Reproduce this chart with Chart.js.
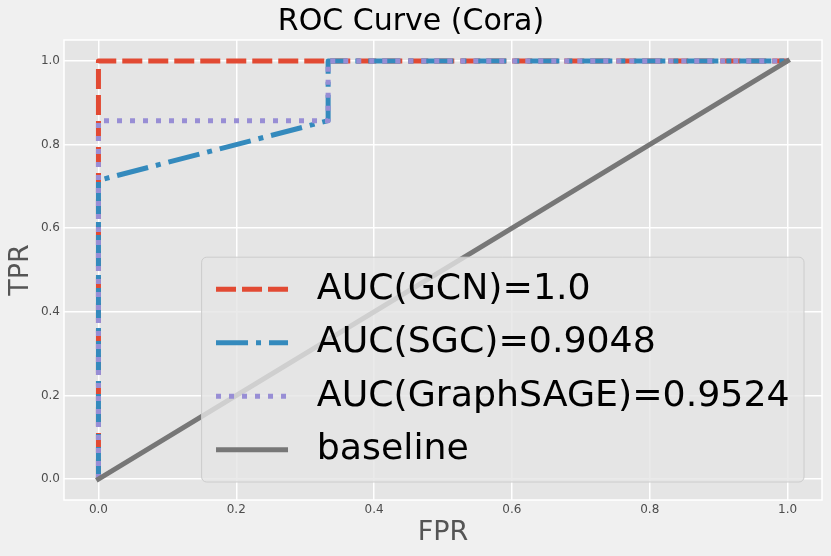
<!DOCTYPE html>
<html>
<head>
<meta charset="utf-8">
<script src="https://cdn.jsdelivr.net/npm/chart.js@4/dist/chart.umd.min.js"></script>
<style>
    html, body { margin: 0; padding: 0; background: #f0f0f0; }
    #wrap { width: 831px; height: 556px; }
</style>
</head>
<body>
<div id="wrap"><canvas id="rocChart" width="831" height="556"></canvas></div>
<script>
// ROC points
const tickValues = [0.0, 0.2, 0.4, 0.6, 0.8, 1.0];

const gcnFpr = [0, 0, 1];
const gcnTpr = [0, 1, 1];

const sgcFpr = [0, 0, 0.3333, 0.3333, 1];
const sgcTpr = [0, 0.7143, 0.8571, 1, 1];

const sageFpr = [0, 0, 0.3333, 0.3333, 1];
const sageTpr = [0, 0.8571, 0.8571, 1, 1];

const baseFpr = [0, 1];
const baseTpr = [0, 1];

const seriesLabels = ["AUC(GCN)=1.0", "AUC(SGC)=0.9048", "AUC(GraphSAGE)=0.9524", "baseline"];

const FONT = '"DejaVu Sans", "Liberation Sans", sans-serif';

function toPoints(xs, ys) {
    return xs.map((x, i) => ({ x: x, y: ys[i] }));
}

// Plot panel background + white frame (ggplot look)
const panelBg = {
    id: "panelBg",
    beforeDraw(chart) {
        const { ctx, chartArea: a } = chart;
        ctx.save();
        ctx.fillStyle = "#f0f0f0";
        ctx.fillRect(0, 0, chart.width, chart.height);
        ctx.fillStyle = "#e5e5e5";
        ctx.fillRect(a.left, a.top, a.right - a.left, a.bottom - a.top);
        ctx.restore();
    },
    beforeDatasetsDraw(chart) {
        const { ctx, chartArea: a } = chart;
        ctx.save();
        ctx.strokeStyle = "#ffffff";
        ctx.lineWidth = 1.5;
        ctx.strokeRect(a.left, a.top, a.right - a.left, a.bottom - a.top);
        ctx.restore();
    }
};

// Legend drawn inside the plot, lower right
const insideLegend = {
    id: "insideLegend",
    afterDatasetsDraw(chart) {
        const { ctx, chartArea: a } = chart;
        const fs = 36;
        const pad = 0.4 * fs, handleLen = 2 * fs, handleGap = 0.8 * fs;
        const rowH = 35.5, spacing = 0.5 * fs, edge = 18;
        const sets = chart.data.datasets;

        ctx.save();
        ctx.font = "36.3px " + FONT;
        const textW = Math.max(...seriesLabels.map(t => ctx.measureText(t).width));
        const w = pad * 2 + handleLen + handleGap + textW;
        const h = pad * 2 + rowH * sets.length + spacing * (sets.length - 1);
        const x0 = a.right - edge - w;
        const y0 = a.bottom - edge - h;

        ctx.beginPath();
        ctx.roundRect(x0, y0, w, h, 5);
        ctx.fillStyle = "rgba(229, 229, 229, 0.8)";
        ctx.fill();
        ctx.lineWidth = 1;
        ctx.strokeStyle = "#cccccc";
        ctx.stroke();

        sets.forEach((ds, i) => {
            const cy = y0 + pad + rowH / 2 + i * (rowH + spacing);
            ctx.beginPath();
            ctx.setLineDash(ds.borderDash || []);
            ctx.lineCap = "butt";
            ctx.lineWidth = ds.borderWidth;
            ctx.strokeStyle = ds.borderColor;
            ctx.moveTo(x0 + pad, cy);
            ctx.lineTo(x0 + pad + handleLen, cy);
            ctx.stroke();
            ctx.setLineDash([]);

            ctx.fillStyle = "#000000";
            ctx.textBaseline = "middle";
            ctx.textAlign = "left";
            ctx.fillText(ds.label, x0 + pad + handleLen + handleGap, cy);
        });
        ctx.restore();
    }
};

function axisOptions(titleText, isX) {
    return {
        type: "linear",
        min: -0.05,
        max: 1.05,
        afterBuildTicks: s => { s.ticks = tickValues.map(v => ({ value: v })); },
        afterFit: s => {
            if (isX) s.height = 56; else s.width = 64;
        },
        ticks: {
            callback: v => Number(v).toFixed(1),
            font: { family: FONT, size: 12 },
            color: "#4d4d4d",
            padding: isX ? 3 : 4
        },
        grid: { color: "#ffffff", lineWidth: 1.5, drawTicks: false },
        border: { display: false },
        title: {
            display: true,
            text: titleText,
            font: { family: FONT, size: 27 },
            color: "#555555",
            padding: isX ? { top: 0, bottom: 7 } : { top: 5, bottom: 0 }
        }
    };
}

const lineBase = {
    showLine: true,
    fill: false,
    pointRadius: 0,
    pointHoverRadius: 0,
    borderWidth: 5,
    borderCapStyle: "butt",
    borderJoinStyle: "round",
    tension: 0
};

new Chart(document.getElementById("rocChart"), {
    type: "scatter",
    data: {
        datasets: [
            { ...lineBase, label: seriesLabels[0], data: toPoints(gcnFpr, gcnTpr),
              borderColor: "#E24A33", borderDash: [20, 6], order: 3 },
            { ...lineBase, label: seriesLabels[1], data: toPoints(sgcFpr, sgcTpr),
              borderColor: "#348ABD", borderDash: [32, 8, 5, 8], order: 2 },
            { ...lineBase, label: seriesLabels[2], data: toPoints(sageFpr, sageTpr),
              borderColor: "#988ED5", borderDash: [5, 8], order: 1 },
            { ...lineBase, label: seriesLabels[3], data: toPoints(baseFpr, baseTpr),
              borderColor: "#777777", borderCapStyle: "square", order: 0 }
        ]
    },
    options: {
        responsive: false,
        animation: false,
        devicePixelRatio: 1,
        layout: { padding: { left: 0, right: 9, top: 0, bottom: 0 } },
        scales: {
            x: axisOptions("FPR", true),
            y: axisOptions("TPR", false)
        },
        plugins: {
            legend: { display: false },
            tooltip: { enabled: false },
            title: {
                display: true,
                text: "ROC Curve (Cora)",
                font: { family: FONT, size: 30, weight: "normal" },
                color: "#000000",
                padding: { top: 4, bottom: 0 }
            }
        }
    },
    plugins: [panelBg, insideLegend]
});
</script>
</body>
</html>
